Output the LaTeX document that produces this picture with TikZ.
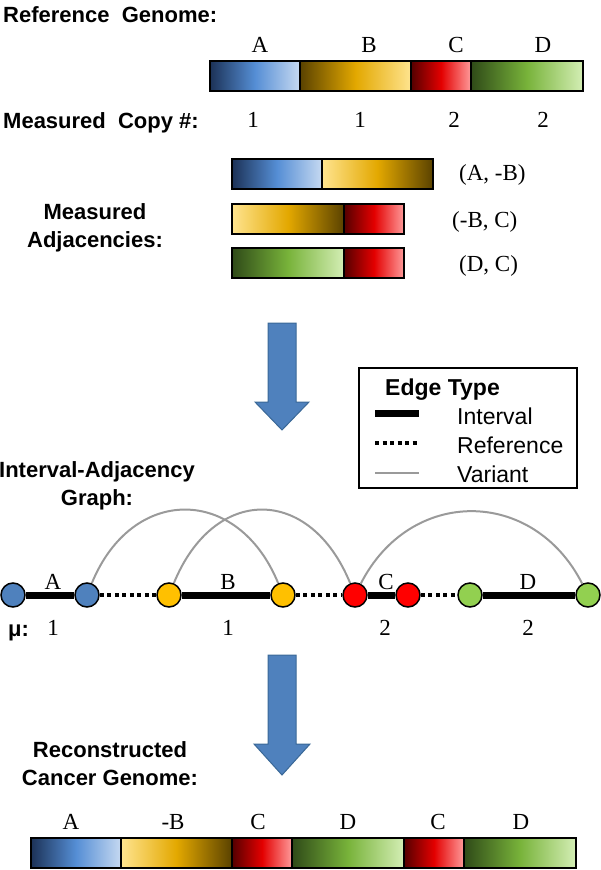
\documentclass[tikz,border=0pt]{standalone}
\usepackage{fontspec}
\setmainfont{Liberation Serif}
\setsansfont{Liberation Sans}
\usetikzlibrary{positioning}

\definecolor{blueD}{HTML}{1C3257}
\definecolor{blueM}{HTML}{558ED5}
\definecolor{blueL}{HTML}{C6D9F1}
\definecolor{goldD}{HTML}{5A4200}
\definecolor{goldM}{HTML}{E3A800}
\definecolor{goldL}{HTML}{FFE48F}
\definecolor{redD}{HTML}{550000}
\definecolor{redM}{HTML}{E30000}
\definecolor{redL}{HTML}{FF9A9A}
\definecolor{grnD}{HTML}{2F4A18}
\definecolor{grnM}{HTML}{78B33A}
\definecolor{grnL}{HTML}{D4EEB5}
\definecolor{arrowblue}{HTML}{4F81BD}
\definecolor{arrowedge}{HTML}{3A6897}
\definecolor{nodeblue}{HTML}{4F81BD}
\definecolor{nodegold}{HTML}{FFC000}
\definecolor{nodered}{HTML}{FF0000}
\definecolor{nodegreen}{HTML}{92D050}
\definecolor{variantgray}{HTML}{9A9A9A}

\tikzset{
	seg/.style={draw=black, line width=1.6pt, minimum height=30pt, inner sep=0pt, outer sep=0pt},
	segA/.style={seg, minimum width=90pt, left color=blueD, right color=blueL, middle color=blueM},
	segB/.style={seg, minimum width=111pt, left color=goldD, right color=goldL, middle color=goldM},
	segBr/.style={seg, minimum width=111pt, left color=goldL, right color=goldD, middle color=goldM},
	segC/.style={seg, minimum width=60pt, left color=redD, right color=redL, middle color=redM},
	segD/.style={seg, minimum width=112pt, left color=grnD, right color=grnL, middle color=grnM},
	hdr/.style={font=\sffamily\bfseries\fontsize{22}{28}\selectfont, inner sep=0pt},
	lbl/.style={font=\fontsize{23}{26}\selectfont, inner sep=0pt, anchor=base},
	leg/.style={font=\sffamily\fontsize{23}{26}\selectfont, inner sep=0pt, anchor=base west},
	gnode/.style={circle, draw=black, line width=1.5pt, minimum size=24pt, inner sep=0pt},
	interval/.style={line width=7pt},
	reference/.style={line width=4pt, dash pattern=on 4pt off 3.5pt},
	variant/.style={line width=2pt, variantgray},
	bigarrow/.style={fill=arrowblue, draw=arrowedge, line width=1pt, line join=miter}
}

\begin{document}
\begin{tikzpicture}[x=1pt,y=-1pt]
	\useasboundingbox (0,0) rectangle (600,870);

	% reference genome
	\node[hdr, anchor=base west] (refhdr) at (3,23) {Reference\ \ Genome:};
	\node[segA] (ra) at (255,76) {};
	\node[segB, right=0pt of ra] (rb) {};
	\node[segC, right=0pt of rb] (rc) {};
	\node[segD, right=0pt of rc] (rd) {};
	\node[lbl] (la) at (260,52) {A};
	\node[lbl] (lb) at (369,52) {B};
	\node[lbl] (lc) at (456,52) {C};
	\node[lbl] (ld) at (543,52) {D};

	\node[hdr, anchor=base west] (cnhdr) at (3,128) {Measured\ \ Copy \#:};
	\node[lbl] (cna) at (253,127) {1};
	\node[lbl] (cnb) at (360,127) {1};
	\node[lbl] (cnc) at (454,127) {2};
	\node[lbl] (cnd) at (543,127) {2};

	% adjacencies
	\node[hdr, align=center, anchor=north] (adjhdr) at (95,203) {Measured\\Adjacencies:};
	\node[segA] (j1a) at (277,174) {};
	\node[segBr, right=0pt of j1a] (j1b) {};
	\node[segBr, minimum width=112pt] (j2b) at (288,219) {};
	\node[segC, right=0pt of j2b] (j2c) {};
	\node[segD] (j3d) at (288,263) {};
	\node[segC, right=0pt of j3d] (j3c) {};
	\node[lbl, anchor=base west] (adj1) at (459,180) {(A, -B)};
	\node[lbl, anchor=base west] (adj2) at (452,227) {(-B, C)};
	\node[lbl, anchor=base west] (adj3) at (459,271) {(D, C)};

	\draw[bigarrow] (268,323) -- (296,323) -- (296,402) -- (309,402) -- (282,430)
		-- (255,402) -- (268,402) -- cycle;

	% legend
	\draw[line width=1.5pt] (359,368) rectangle (577,488);
	\node[leg, font=\sffamily\bfseries\fontsize{23}{26}\selectfont] (legtitle) at (385,395) {Edge Type};
	\coordinate (li1) at (375,413);  \coordinate (li2) at (419,413);
	\coordinate (lr1) at (375,443);  \coordinate (lr2) at (419,443);
	\coordinate (lv1) at (375,473);  \coordinate (lv2) at (419,473);
	\draw[interval] (li1) -- (li2);
	\draw[reference] (lr1) -- (lr2);
	\draw[variant] (lv1) -- (lv2);
	\node[leg] (legi) at (457,424) {Interval};
	\node[leg] (legr) at (457,453) {Reference};
	\node[leg] (legv) at (457,482) {Variant};

	% interval-adjacency graph
	\node[hdr, align=center, anchor=north] (grhdr) at (97,461) {Interval-Adjacency\\Graph:};
	\node[gnode, fill=nodeblue] (aT) at (13,595) {};
	\node[gnode, fill=nodeblue] (aH) at (87,595) {};
	\node[gnode, fill=nodegold] (bT) at (169,595) {};
	\node[gnode, fill=nodegold] (bH) at (283,595) {};
	\node[gnode, fill=nodered] (cT) at (355,595) {};
	\node[gnode, fill=nodered] (cH) at (408,595) {};
	\node[gnode, fill=nodegreen] (dT) at (470,595) {};
	\node[gnode, fill=nodegreen] (dH) at (588,595) {};
	\draw[interval] (aT) -- (aH);
	\draw[interval] (bT) -- (bH);
	\draw[interval] (cT) -- (cH);
	\draw[interval] (dT) -- (dH);
	\draw[reference] (aH) -- (bT);
	\draw[reference] (bH) -- (cT);
	\draw[reference] (cH) -- (dT);
	\draw[variant] (aH) .. controls +(45,-110) and +(-45,-110) .. (bH);
	\draw[variant] (bT) .. controls +(45,-110) and +(-45,-110) .. (cT);
	\draw[variant] (cT) .. controls +(55,-108) and +(-55,-108) .. (dH);
	\node[lbl] (ga) at (53,589) {A};
	\node[lbl] (gb) at (228,589) {B};
	\node[lbl] (gc) at (386,589) {C};
	\node[lbl] (gd) at (528,589) {D};
	\node[hdr, anchor=base west] (mu) at (8,636) {μ:};
	\node[lbl] (mua) at (53,635) {1};
	\node[lbl] (mub) at (228,635) {1};
	\node[lbl] (muc) at (385,635) {2};
	\node[lbl] (mud) at (528,635) {2};

	\draw[bigarrow] (268,655) -- (296,655) -- (296,744) -- (310,744) -- (282,775)
		-- (254,744) -- (268,744) -- cycle;

	% reconstructed genome
	\node[hdr, align=center, anchor=north] (rchdr) at (110,741) {Reconstructed\\Cancer Genome:};
	\node[segA] (ka) at (76,853) {};
	\node[segBr, right=0pt of ka] (kb) {};
	\node[segC, right=0pt of kb] (kc) {};
	\node[segD, right=0pt of kc] (kd) {};
	\node[segC, right=0pt of kd] (kc2) {};
	\node[segD, right=0pt of kc2] (kd2) {};
	\node[lbl] (ma) at (71,829) {A};
	\node[lbl] (mb) at (173,829) {-B};
	\node[lbl] (mc) at (258,829) {C};
	\node[lbl] (md) at (348,829) {D};
	\node[lbl] (mc2) at (438,829) {C};
	\node[lbl] (md2) at (521,829) {D};
\end{tikzpicture}
\end{document}
